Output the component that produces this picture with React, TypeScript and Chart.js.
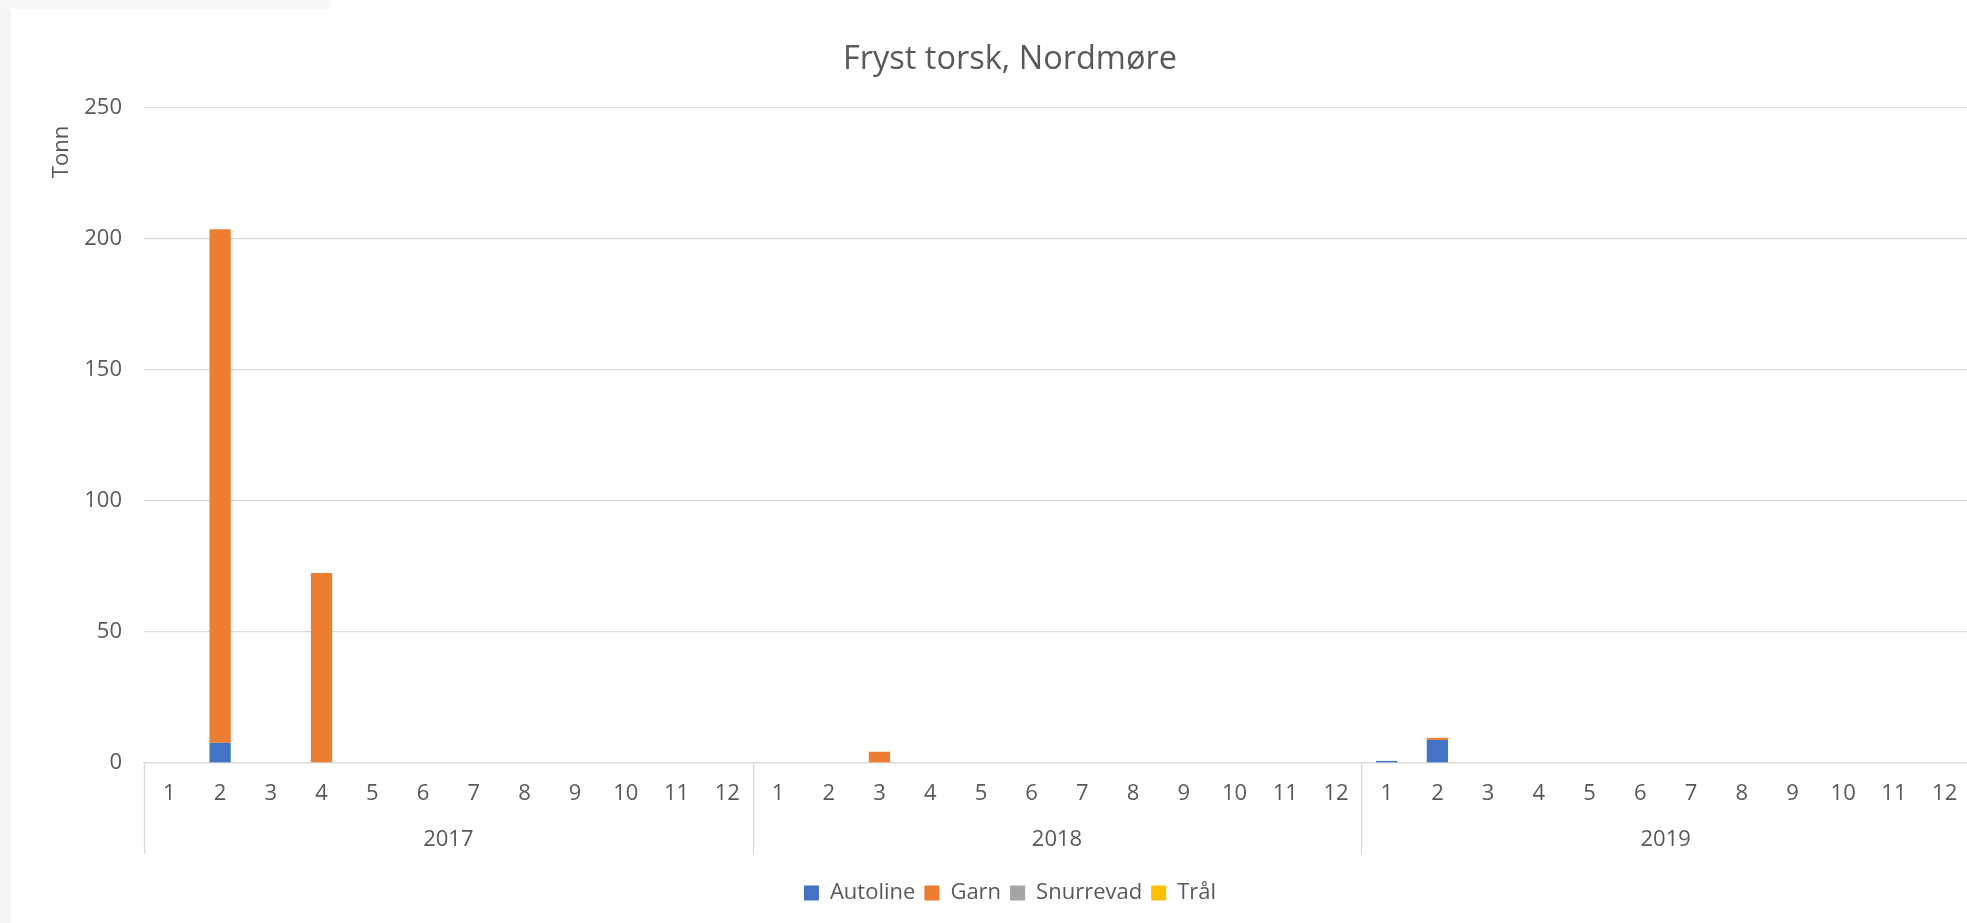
import React, { useEffect, useRef } from "react";
import { Chart, registerables } from "chart.js";

Chart.register(...registerables);

const years = ["2017", "2018", "2019"];
const months = ["1", "2", "3", "4", "5", "6", "7", "8", "9", "10", "11", "12"];
const seriesNames = ["Autoline", "Garn", "Snurrevad", "Trål"];
const seriesColors = ["#4472C4", "#ED7D31", "#A5A5A5", "#FFC000"];

// 36 months: 2017-1 .. 2019-12
const autoline = [
  0, 7.7, 0, 0, 0, 0, 0, 0, 0, 0, 0, 0,
  0, 0, 0, 0, 0, 0, 0, 0, 0, 0, 0, 0,
  0.8, 8.8, 0, 0, 0, 0, 0, 0, 0, 0, 0, 0,
];
const garn = [
  0, 196, 0, 72.5, 0, 0, 0, 0, 0, 0, 0, 0,
  0, 0, 4.3, 0, 0, 0, 0, 0, 0, 0, 0, 0,
  0, 0.8, 0, 0, 0, 0, 0, 0, 0, 0, 0, 0,
];
const snurrevad = [
  0, 0, 0, 0, 0, 0, 0, 0, 0, 0, 0, 0,
  0, 0, 0, 0, 0, 0, 0, 0, 0, 0, 0, 0,
  0, 0, 0, 0, 0, 0, 0, 0, 0, 0, 0, 0,
];
const tral = [
  0, 0, 0, 0, 0, 0, 0, 0, 0, 0, 0, 0,
  0, 0, 0, 0, 0, 0, 0, 0, 0, 0, 0, 0,
  0, 0, 0, 0, 0, 0, 0, 0, 0, 0, 0, 0,
];
const yTicks = [0, 50, 100, 150, 200, 250];
const titleText = "Fryst torsk, Nordmøre";
const yTitle = "Tonn";

const FONT = "'Open Sans', sans-serif";
const TEXT = "#595959";
const GRID = "#d9d9d9";

export default function App() {
  const ref = useRef<HTMLCanvasElement | null>(null);

  useEffect(() => {
    if (!ref.current) return;
    const labels: string[] = [];
    years.forEach(() => months.forEach((m) => labels.push(m)));
    const seriesData = [autoline, garn, snurrevad, tral];

    const groupPlugin = {
      id: "groupAxis",
      afterDraw(chart: any) {
        const ctx = chart.ctx;
        const x = chart.scales.x;
        const n = labels.length;
        const step = x.getPixelForValue(1) - x.getPixelForValue(0);
        const top = x.top;
        const bottom = x.top + 91;
        ctx.save();
        ctx.strokeStyle = GRID;
        ctx.lineWidth = 1.3;
        for (let k = 0; k <= years.length; k++) {
          const idx = k * months.length;
          const px = idx < n ? x.getPixelForValue(idx) - step / 2 : x.getPixelForValue(n - 1) + step / 2;
          ctx.beginPath();
          ctx.moveTo(Math.round(px) + 0.5, top);
          ctx.lineTo(Math.round(px) + 0.5, bottom);
          ctx.stroke();
        }
        ctx.fillStyle = TEXT;
        ctx.font = `22px ${FONT}`;
        ctx.textAlign = "center";
        ctx.textBaseline = "middle";
        years.forEach((yr, k) => {
          const a = x.getPixelForValue(k * 12);
          const b = x.getPixelForValue(k * 12 + 11);
          ctx.fillText(yr, (a + b) / 2, top + 77);
        });
        // y axis title
        ctx.translate(62, chart.chartArea.top + 44);
        ctx.rotate(-Math.PI / 2);
        ctx.fillText(yTitle, 0, 0);
        ctx.restore();
      },
    };

    const chart = new Chart(ref.current, {
      type: "bar",
      data: {
        labels,
        datasets: seriesNames.map((name, i) => ({
          label: name,
          data: seriesData[i],
          backgroundColor: seriesColors[i],
          borderWidth: 0,
          barPercentage: 0.42,
          categoryPercentage: 1,
        })),
      },
      options: {
        responsive: false,
        animation: false,
        devicePixelRatio: 1,
        layout: { padding: { left: 0, right: 0, top: 0, bottom: 9 } },
        plugins: {
          title: {
            display: true,
            text: titleText,
            color: TEXT,
            font: { family: FONT, size: 32.5, weight: "normal" },
            padding: { top: 40, bottom: 29 },
          },
          legend: {
            position: "bottom",
            labels: {
              color: TEXT,
              font: { family: FONT, size: 22 },
              boxWidth: 15,
              boxHeight: 15,
              padding: 9,
            },
          },
          tooltip: { enabled: false },
        },
        scales: {
          x: {
            stacked: true,
            grid: { display: false, drawTicks: false },
            border: { display: true, color: GRID, width: 1.3 },
            ticks: {
              color: TEXT,
              font: { family: FONT, size: 22 },
              padding: 18,
              maxRotation: 0,
              autoSkip: false,
            },
            afterFit(scale: any) {
              scale.height = 110;
            },
          },
          y: {
            stacked: true,
            min: 0,
            max: 250,
            afterBuildTicks(scale: any) {
              scale.ticks = yTicks.map((v) => ({ value: v }));
            },
            grid: { color: GRID, lineWidth: 1.3, drawTicks: false },
            border: { display: false },
            ticks: {
              color: TEXT,
              font: { family: FONT, size: 22 },
              padding: 22,
            },
            afterFit(scale: any) {
              scale.width = 144;
            },
          },
          yRight: {
            position: "right",
            display: true,
            min: 0,
            max: 250,
            grid: { display: false, drawTicks: false },
            border: { display: false },
            ticks: { display: false },
            afterFit(scale: any) {
              scale.width = 50;
            },
          },
        },
      },
      plugins: [groupPlugin],
    });
    return () => chart.destroy();
  }, []);

  return (
    <div
      style={{
        position: "fixed",
        left: 0,
        top: 0,
        width: 1967,
        height: 923,
        overflow: "hidden",
        background: "#ffffff",
      }}
    >
      <div style={{ position: "absolute", left: 0, top: 0, width: 11, height: 923, background: "#f4f4f4" }} />
      <div style={{ position: "absolute", left: 0, top: 0, width: 330, height: 9, background: "#f7f7f7" }} />
      <canvas
        ref={ref}
        width={2020}
        height={923}
        style={{ position: "absolute", left: 0, top: 0, width: 2020, height: 923 }}
      />
    </div>
  );
}
